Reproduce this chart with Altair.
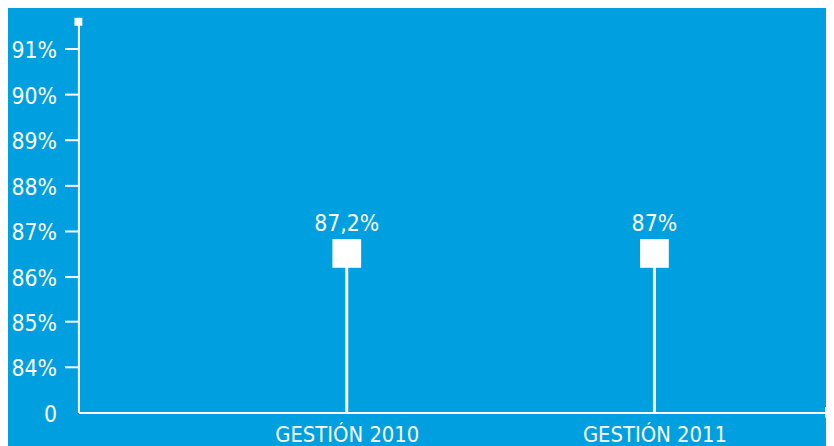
import altair as alt
import pandas as pd

# ---- data ----
categories = ["GESTIÓN 2010", "GESTIÓN 2011"]
label_text = ["87,2%", "87%"]
marker_level = [86.5, 86.5]          # where the squares sit on the axis
axis_base = 83                       # bottom of axis (labelled "0")
axis_top = 91.6                      # top end of the y axis
tick_values = [83, 84, 85, 86, 87, 88, 89, 90, 91]

BG = "#009FDF"
FONT = "Liberation Sans Narrow, DejaVu Sans Condensed, Roboto Condensed, sans-serif"

df = pd.DataFrame({
    "cat": categories,
    "label": label_text,
    "level": marker_level,
    "base": [axis_base] * len(categories),
})
top_df = pd.DataFrame({"level": [axis_top]})
end_df = pd.DataFrame({"level": [axis_base]})

yscale = alt.Scale(domain=[axis_base, axis_top], nice=False, zero=False)
yaxis = alt.Axis(
    title=None,
    values=tick_values,
    labelExpr="datum.value == 83 ? '0' : datum.value + '%'",
    tickSize=14,
    tickWidth=2,
    tickColor="white",
    tickOpacity={"condition": {"test": "datum.value == 83", "value": 0}, "value": 1},
    domainColor="white",
    domainWidth=2,
    labelColor="white",
    labelFont=FONT,
    labelFontSize=23,
    labelPadding=8,
    labelOffset=2,
    grid=False,
)
xscale = alt.Scale(type="point", domain=categories, padding=0.715, align=0.61)
xaxis = alt.Axis(
    title=None,
    labelAngle=0,
    ticks=False,
    domainColor="white",
    domainWidth=2,
    labelColor="white",
    labelFont=FONT,
    labelFontSize=22,
    labelPadding=12,
    grid=False,
)

x = alt.X("cat:N", scale=xscale, axis=xaxis)
y = alt.Y("level:Q", scale=yscale, axis=yaxis)

stems = alt.Chart(df).mark_rule(color="white", strokeWidth=3).encode(
    x=x, y=y, y2="base:Q"
)
squares = alt.Chart(df).mark_square(size=841, color="white", opacity=1).encode(
    x=x, y=y
)
labels = alt.Chart(df).mark_text(
    dy=-23, baseline="alphabetic", align="center", fontSize=23, color="white", font=FONT
).encode(x=x, y=y, text="label:N")

top_cap = alt.Chart(top_df).mark_square(size=64, color="white", opacity=1).encode(
    x=alt.value(0), y=y
)
end_cap = alt.Chart(end_df).mark_tick(
    orient="vertical", size=11, thickness=2, color="white", opacity=1
).encode(x=alt.value("width"), y=y)

chart = (
    alt.layer(stems, squares, labels, top_cap, end_cap)
    .properties(
        width=754,
        height=394,
        autosize=alt.AutoSizeParams(type="none"),
        padding={"left": 71, "top": 12, "right": 0, "bottom": 32},
        background=BG,
    )
    .configure_view(stroke=None)
)

chart.save("out.html", embed_options={"renderer": "svg", "actions": False})
